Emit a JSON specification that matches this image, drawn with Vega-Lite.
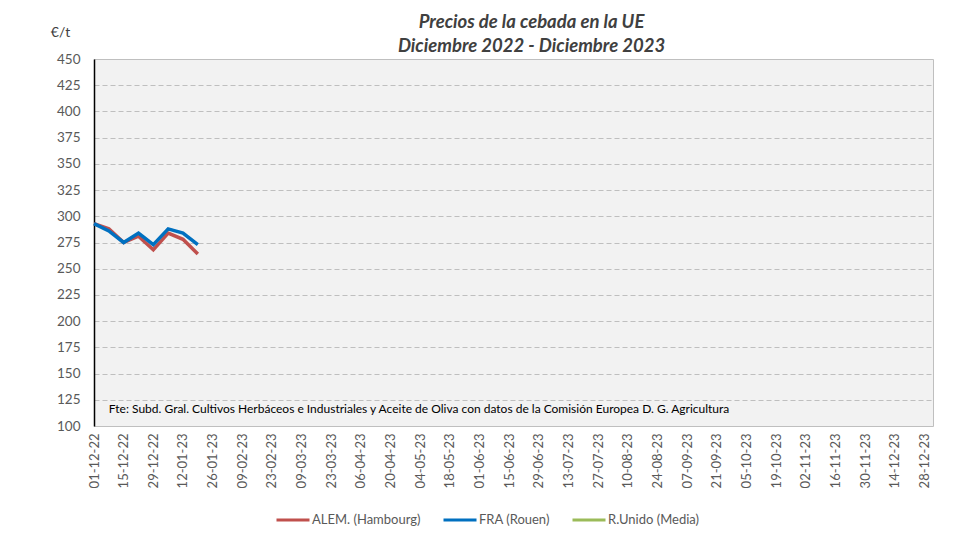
{
  "$schema": "https://vega.github.io/schema/vega-lite/v6.json",
  "width": 839,
  "height": 367,
  "autosize": {"type": "none"},
  "padding": {"left": 94, "top": 59, "right": 27, "bottom": 113},
  "background": "white",
  "config": {
    "font": "Lato",
    "view": {"fill": "#f2f2f2", "stroke": "#bfbfbf", "strokeWidth": 1}
  },
  "title": {
    "text": ["Precios de la cebada en la UE", "Diciembre 2022 - Diciembre 2023"],
    "anchor": "middle",
    "frame": "group",
    "dx": 18,
    "offset": -30,
    "fontSize": 18.5,
    "fontStyle": "italic",
    "fontWeight": "bold",
    "color": "#404040",
    "lineHeight": 24
  },
  "encoding": {
    "x": {
      "field": "fecha",
      "type": "temporal",
      "scale": {
        "type": "utc",
        "domain": [
          {"year": 2022, "month": 12, "date": 1, "utc": true},
          {"year": 2024, "month": 1, "date": 1, "utc": true}
        ]
      },
      "axis": {
        "title": null,
        "labelExpr": "utcFormat(datum.value, '%d-%m-%y')",
        "labelAngle": 270,
        "labelAlign": "right",
        "labelBaseline": "middle",
        "labelPadding": 7,
        "labelFontSize": 13,
        "labelColor": "#595959",
        "labelOverlap": false,
        "labelFlush": false,
        "ticks": false,
        "grid": false,
        "domain": false,
        "values": [
          {"year": 2022, "month": 12, "date": 1, "utc": true},
          {"year": 2022, "month": 12, "date": 15, "utc": true},
          {"year": 2022, "month": 12, "date": 29, "utc": true},
          {"year": 2023, "month": 1, "date": 12, "utc": true},
          {"year": 2023, "month": 1, "date": 26, "utc": true},
          {"year": 2023, "month": 2, "date": 9, "utc": true},
          {"year": 2023, "month": 2, "date": 23, "utc": true},
          {"year": 2023, "month": 3, "date": 9, "utc": true},
          {"year": 2023, "month": 3, "date": 23, "utc": true},
          {"year": 2023, "month": 4, "date": 6, "utc": true},
          {"year": 2023, "month": 4, "date": 20, "utc": true},
          {"year": 2023, "month": 5, "date": 4, "utc": true},
          {"year": 2023, "month": 5, "date": 18, "utc": true},
          {"year": 2023, "month": 6, "date": 1, "utc": true},
          {"year": 2023, "month": 6, "date": 15, "utc": true},
          {"year": 2023, "month": 6, "date": 29, "utc": true},
          {"year": 2023, "month": 7, "date": 13, "utc": true},
          {"year": 2023, "month": 7, "date": 27, "utc": true},
          {"year": 2023, "month": 8, "date": 10, "utc": true},
          {"year": 2023, "month": 8, "date": 24, "utc": true},
          {"year": 2023, "month": 9, "date": 7, "utc": true},
          {"year": 2023, "month": 9, "date": 21, "utc": true},
          {"year": 2023, "month": 10, "date": 5, "utc": true},
          {"year": 2023, "month": 10, "date": 19, "utc": true},
          {"year": 2023, "month": 11, "date": 2, "utc": true},
          {"year": 2023, "month": 11, "date": 16, "utc": true},
          {"year": 2023, "month": 11, "date": 30, "utc": true},
          {"year": 2023, "month": 12, "date": 14, "utc": true},
          {"year": 2023, "month": 12, "date": 28, "utc": true}
        ]
      }
    },
    "y": {
      "field": "precio",
      "type": "quantitative",
      "scale": {"domain": [100, 450], "nice": false, "zero": false},
      "axis": {
        "title": "€/t",
        "titleAngle": 0,
        "titleX": -34,
        "titleY": -27,
        "titleAlign": "center",
        "titleBaseline": "middle",
        "titleFontSize": 14,
        "titleFontWeight": "normal",
        "titleColor": "#404040",
        "values": [100, 125, 150, 175, 200, 225, 250, 275, 300, 325, 350, 375, 400, 425, 450],
        "labelOverlap": false,
        "labelFontSize": 13.5,
        "labelColor": "#595959",
        "labelPadding": 14,
        "ticks": false,
        "domain": true,
        "domainColor": "#000000",
        "domainWidth": 1.5,
        "grid": true,
        "gridColor": "#bfbfbf",
        "gridDash": [5, 3],
        "gridWidth": 1
      }
    }
  },
  "layer": [
    {
      "data": {
        "values": [
          {"fecha": "2022-12-01", "serie": "ALEM. (Hambourg)", "precio": 293},
          {"fecha": "2022-12-08", "serie": "ALEM. (Hambourg)", "precio": 288},
          {"fecha": "2022-12-15", "serie": "ALEM. (Hambourg)", "precio": 275},
          {"fecha": "2022-12-22", "serie": "ALEM. (Hambourg)", "precio": 281},
          {"fecha": "2022-12-29", "serie": "ALEM. (Hambourg)", "precio": 268},
          {"fecha": "2023-01-05", "serie": "ALEM. (Hambourg)", "precio": 284},
          {"fecha": "2023-01-12", "serie": "ALEM. (Hambourg)", "precio": 278},
          {"fecha": "2023-01-19", "serie": "ALEM. (Hambourg)", "precio": 264},
          {"fecha": "2022-12-01", "serie": "FRA (Rouen)", "precio": 293},
          {"fecha": "2022-12-08", "serie": "FRA (Rouen)", "precio": 286},
          {"fecha": "2022-12-15", "serie": "FRA (Rouen)", "precio": 275},
          {"fecha": "2022-12-22", "serie": "FRA (Rouen)", "precio": 284},
          {"fecha": "2022-12-29", "serie": "FRA (Rouen)", "precio": 273},
          {"fecha": "2023-01-05", "serie": "FRA (Rouen)", "precio": 288},
          {"fecha": "2023-01-12", "serie": "FRA (Rouen)", "precio": 284},
          {"fecha": "2023-01-19", "serie": "FRA (Rouen)", "precio": 273}
        ]
      },
      "mark": {"type": "line", "strokeWidth": 3.5, "strokeJoin": "miter"},
      "encoding": {
        "color": {
          "field": "serie",
          "type": "nominal",
          "scale": {
            "domain": ["ALEM. (Hambourg)", "FRA (Rouen)", "R.Unido (Media)"],
            "range": ["#c0504d", "#0070c0", "#9bbb59"]
          },
          "legend": {
            "title": null,
            "orient": "none",
            "direction": "horizontal",
            "legendX": 181,
            "legendY": 443,
            "symbolType": "stroke",
            "symbolSize": 1089,
            "symbolStrokeWidth": 3,
            "labelFontSize": 13,
            "labelColor": "#595959",
            "labelOffset": 1,
            "columnPadding": 16
          }
        }
      }
    },
    {
      "data": {
        "values": [
          {"fecha": "2022-12-08", "precio": 116, "nota": "Fte: Subd. Gral. Cultivos Herbáceos e Industriales y Aceite de Oliva con datos de la Comisión Europea D. G. Agricultura"}
        ]
      },
      "mark": {"type": "text", "align": "left", "baseline": "middle", "fontSize": 12, "fontWeight": "normal", "color": "#000000"},
      "encoding": {
        "text": {"field": "nota"}
      }
    }
  ]
}
